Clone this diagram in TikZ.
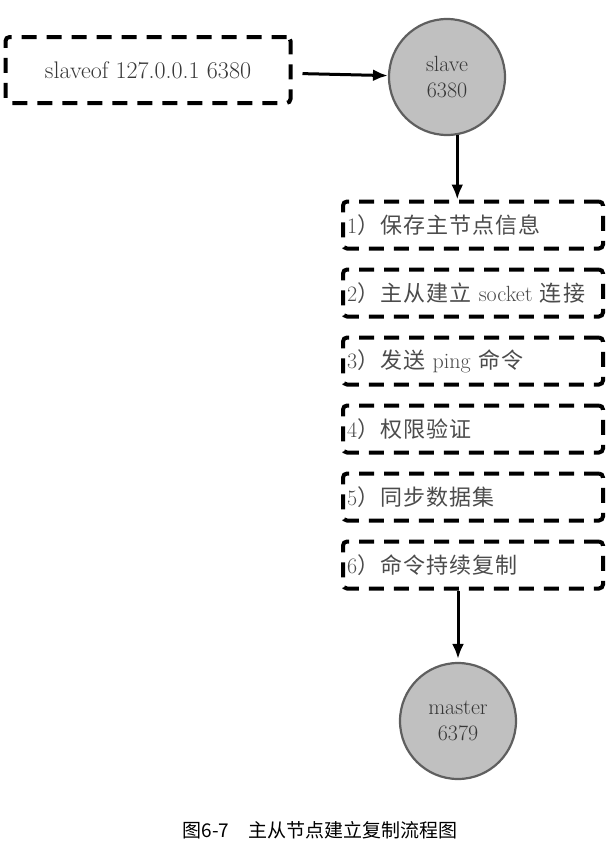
\documentclass[tikz,border=0pt]{standalone}
\usepackage{fontspec}
\newfontfamily\cjk[LetterSpace=5]{Noto Sans CJK SC}
\newfontfamily\capfont{Noto Sans CJK SC}
\usetikzlibrary{arrows.meta,positioning}
\definecolor{PortFill}  {RGB}{192,192,192}
\definecolor{PortEdge}  {RGB}{ 95, 95, 95}
\definecolor{LabelGray} {RGB}{ 55, 55, 55}
\definecolor{StepGray}  {RGB}{ 75, 75, 75}
\tikzset{
  dashbox/.style={draw=black, line width=4pt, dash pattern=on 15pt off 10pt,
    rounded corners=4pt, inner sep=4pt},
  stepbox/.style={dashbox, minimum height=47pt, text width=252pt, align=left,
    text=StepGray, font=\fontsize{22}{24}\selectfont},
  portnode/.style={circle, fill=PortFill, draw=PortEdge, line width=2.2pt,
    minimum size=116pt, align=center, text=LabelGray,
    font=\fontsize{22}{26}\selectfont},
  arrow/.style={-{Latex[length=15pt,width=12pt]}, line width=3pt}
}

\begin{document}
\begin{tikzpicture}[x=1pt,y=-1pt,node distance=17pt]
      \useasboundingbox (0,0) rectangle (607,846);
      % command and slave
      \node[dashbox, minimum width=285pt, minimum height=66pt, text=LabelGray,
            font=\fontsize{24}{26}\selectfont] (cmd) at (148,70)
        {slaveof 127.0.0.1 6380};
      \node[portnode] (slave) at (447,77) {slave\\6380};
      % replication steps
      \node[stepbox] (step1) at (473,225) {\mbox{1{\cjk ）保存主节点信息}}};
      \node[stepbox, below=of step1] (step2) {\mbox{2{\cjk ）主从建立} socket {\cjk 连接}}};
      \node[stepbox, below=of step2] (step3) {\mbox{3{\cjk ）发送} ping {\cjk 命令}}};
      \node[stepbox, below=of step3] (step4) {\mbox{4{\cjk ）权限验证}}};
      \node[stepbox, below=of step4] (step5) {\mbox{5{\cjk ）同步数据集}}};
      \node[stepbox, below=of step5] (step6) {\mbox{6{\cjk ）命令持续复制}}};
      \node[portnode] (master) at (458,721) {master\\6379};
      % arrows
      \draw[arrow, shorten <=10pt] (cmd) -- (slave);
      \draw[arrow] (slave.-80) -- (slave.-80 |- step1.north);
      \draw[arrow, shorten >=3pt] (step6.south -| master.north) -- (master.north);
      % caption
      \node[font=\fontsize{19}{22}\selectfont\capfont] (caption) at (320,830)
        {图6-7\quad 主从节点建立复制流程图};
\end{tikzpicture}
\end{document}
